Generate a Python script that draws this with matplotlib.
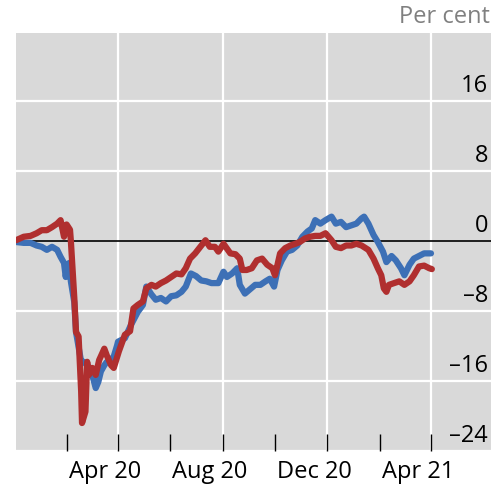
import matplotlib
matplotlib.use("Agg")
import matplotlib.pyplot as plt
import numpy as np
import pandas as pd

# ---- data (days relative to 1 Apr 2020, values in per cent) ----
base_date = "2020-04-01"

blue_days = [-119, -110, -102, -95, -89, -83, -77, -71, -67, -63, -61, -60, -57, -55,
             -51, -49, -43, -40, -33, -29, -26, -23, -20, -16, -13, -9, -5, -1,
             0, 8, 15, 23, 29, 33, 39, 44, 50, 56, 62, 68, 74, 79, 85, 91, 97, 103,
             109, 117, 123, 127, 133, 139, 142, 148, 154, 160, 166, 172, 177, 182,
             186, 191, 197, 203, 209, 215, 221, 226, 230, 236, 242, 249, 254, 260,
             266, 272, 278, 284, 287, 292, 298, 303, 309, 313, 319, 324, 330, 334,
             340, 345, 351, 357, 365]
blue_vals = [-0.1, -0.2, -0.2, -0.5, -0.65, -1.0, -0.65, -1.0, -1.8, -2.5, -4.1, -3.3, -2.5, -4.6,
             -7.0, -10.4, -13.8, -13.8, -14.5, -15.7, -16.8, -16.1, -14.9, -14.2, -13.8, -13.6, -13.2, -11.9,
             -11.5, -11.1, -9.6, -8.1, -7.3, -5.2, -6.1, -6.7, -6.5, -6.9, -6.3, -6.2, -5.8, -5.2, -3.7, -4.0, -4.5, -4.6,
             -4.8, -4.8, -3.5, -4.1, -3.7, -3.1, -5.0, -6.0, -5.5, -5.0, -5.0, -4.6, -4.3, -5.2,
             -3.3, -2.2, -1.2, -1.0, -0.5, 0.5, 1.1, 1.45, 2.4, 2.0, 2.4, 2.8, 2.0, 2.2,
             1.6, 1.8, 2.0, 2.6, 2.8, 2.0, 0.7, -0.1, -1.2, -2.4, -1.7, -2.2, -3.1, -3.9,
             -2.7, -2.0, -1.7, -1.4, -1.4]

red_days = [-119, -110, -102, -95, -89, -83, -77, -71, -67, -63, -60, -56, -55, -51, -49,
            -46, -43, -42, -38, -36, -34, -30, -26, -22, -16, -13, -8, -5, 1,
            8, 14, 18, 23, 29, 33, 39, 44, 50, 56, 62, 68, 74, 79, 84, 90, 96, 102,
            107, 113, 117, 123, 131, 137, 142, 145, 150, 156, 162, 168, 174, 180, 183,
            186, 189, 195, 201, 207, 212, 218, 224, 230, 236, 242, 249, 254, 260, 266,
            272, 278, 284, 292, 298, 303, 307, 310, 313, 316, 322, 328, 334, 340, 345,
            351, 357, 363, 366]
red_vals = [0.1, 0.5, 0.6, 0.9, 1.25, 1.25, 1.6, 2.0, 2.4, 0.5, 1.9, 1.3, 0.0, -6.5, -10.4,
            -10.9, -17.2, -20.8, -19.5, -13.8, -15.3, -14.5, -15.3, -13.6, -12.3, -13.1, -14.2, -14.5, -12.6,
            -10.7, -10.3, -7.7, -7.3, -6.9, -5.4, -5.0, -5.2, -4.8, -4.5, -4.1, -3.7, -3.8, -3.1, -2.0, -1.4, -0.65, 0.1,
            -0.65, -0.65, -1.2, -0.3, -1.4, -1.5, -2.0, -3.3, -3.3, -3.1, -2.2, -2.0, -2.7, -3.1, -3.9,
            -2.7, -1.4, -0.8, -0.5, -0.3, -0.1, 0.3, 0.5, 0.6, 0.6, 0.9, 0.1, -0.65, -0.8, -0.5,
            -0.5, -0.3, -0.5, -1.0, -2.0, -3.1, -3.9, -5.4, -5.8, -5.0, -4.8, -4.6, -5.0, -4.6, -3.9,
            -2.9, -2.8, -3.1, -3.2]

y_ticks = [16, 8, 0, -8, -16, -24]
y_tick_labels = ["16", "8", "0", "\u20138", "\u201316", "\u201324"]
x_labels = ["Apr 20", "Aug 20", "Dec 20", "Apr 21"]
x_label_dates = ["2020-03-17", "2020-07-17", "2020-11-16", "2021-03-17"]
x_grid_dates = ["2020-04-01", "2020-08-01", "2020-12-01", "2021-04-01"]
x_tick_dates = ["2020-02-01", "2020-04-01", "2020-06-01", "2020-08-01", "2020-10-01",
                "2020-12-01", "2021-02-01", "2021-04-01"]
x_limits = ["2019-12-04", "2021-06-10"]

# ---- styling ----
plt.rcParams['font.family'] = ['Open Sans', 'DejaVu Sans']
BG = "#d9d9d9"
BLUE = "#3d70b6"
RED = "#b02f2f"
FS = 17

base = pd.Timestamp(base_date)
bx = [base + pd.Timedelta(days=d) for d in blue_days]
rx = [base + pd.Timedelta(days=d) for d in red_days]

fig = plt.figure(figsize=(5.01, 4.92), dpi=100)
ax = fig.add_axes([16 / 501, (492 - 451) / 492, (491 - 16) / 501, (451 - 33) / 492])
ax.set_facecolor(BG)
for s in ax.spines.values():
    s.set_visible(False)

ax.set_xlim(pd.Timestamp(x_limits[0]), pd.Timestamp(x_limits[1]))
ax.set_ylim(-24, 23.8)

# grid lines
for g in x_grid_dates:
    ax.axvline(pd.Timestamp(g), color="white", lw=1.6, zorder=1)
for t in y_ticks:
    if t != 0:
        ax.axhline(t, color="white", lw=1.6, zorder=1)
ax.axhline(0, color="black", lw=1.2, zorder=2)

ax.plot(bx, blue_vals, color=BLUE, lw=4.5, solid_joinstyle="round", solid_capstyle="round", zorder=3)
ax.plot(rx, red_vals, color=RED, lw=4.5, solid_joinstyle="round", solid_capstyle="round", zorder=4)

# ticks
ax.set_yticks([])
ax.set_xticks([pd.Timestamp(d) for d in x_tick_dates])
ax.set_xticklabels([])
ax.tick_params(axis="x", direction="in", length=12, width=1.0, color="black")

# y labels inside the plot, right-aligned, above grid lines
ytrans = matplotlib.transforms.blended_transform_factory(ax.transAxes, ax.transData)
for t, lab in zip(y_ticks, y_tick_labels):
    ax.annotate(lab, xy=(0.994, t), xycoords=ytrans, xytext=(0, 2), textcoords="offset points",
                ha="right", va="bottom", fontsize=FS, color="black", zorder=5)

# x labels
xtrans = matplotlib.transforms.blended_transform_factory(ax.transData, ax.transAxes)
for d, lab in zip(x_label_dates, x_labels):
    ax.text(pd.Timestamp(d), -0.05, lab, transform=xtrans, ha="center", va="center",
            fontsize=FS, color="black")

fig.text(490 / 501, 1 - 17 / 492, "Per cent", ha="right", va="center", fontsize=FS, color="#808080")

fig.savefig("out.png", dpi=100, facecolor="white")
